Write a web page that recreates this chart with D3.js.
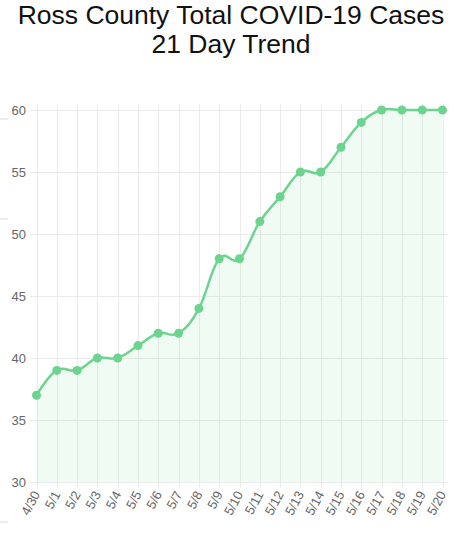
<!DOCTYPE html>
<html>
<head>
<meta charset="utf-8">
<script src="https://cdn.jsdelivr.net/npm/d3@7"></script>
<style>
  body { margin: 0; background: #fff; }
  svg { display: block; }
</style>
</head>
<body>
<svg id="chart" width="462" height="543"></svg>
<script>
// data
const dates = ["4/30","5/1","5/2","5/3","5/4","5/5","5/6","5/7","5/8","5/9","5/10",
               "5/11","5/12","5/13","5/14","5/15","5/16","5/17","5/18","5/19","5/20"]
const cases = [37,39,39,40,40,41,42,42,44,48,48,51,53,55,55,57,59,60,60,60,60]
const yTicks = [30,35,40,45,50,55,60]
const titleLines = ["Ross County Total COVID-19 Cases", "21 Day Trend"]

const green = "#6dd48f"
const gridColor = "#ebebeb"
const textColor = "#666"
const font = "'Liberation Sans', Arial, sans-serif"

let svg = d3.select("#chart")

// Title
svg.append("g")
    .selectAll("text")
    .data(titleLines)
    .join("text")
    .attr("x", 231)
    .attr("y", (d, i) => 24 + i * 29)
    .attr("text-anchor", "middle")
    .style("font-family", font)
    .style("font-size", "26.5px")
    .attr("fill", "#111")
    .text(d => d)

// small grey marks at the left border
svg.append("g")
    .selectAll("line")
    .data([119, 219, 522])
    .join("line")
    .attr("x1", 0).attr("x2", 8)
    .attr("y1", d => d).attr("y2", d => d)
    .attr("stroke", "#ddd")

let xScale = d3.scalePoint()
    .domain(dates)
    .range([36.5, 442.5])

let yScale = d3.scaleLinear()
    .domain([30, 60])
    .range([482, 110])

let plot = svg.append("g")

// horizontal grid + ticks
plot.append("g")
    .selectAll("line")
    .data(yTicks)
    .join("line")
    .attr("x1", 30)
    .attr("x2", 448)
    .attr("y1", d => Math.round(yScale(d)) + 0.5)
    .attr("y2", d => Math.round(yScale(d)) + 0.5)
    .attr("stroke", gridColor)

// vertical grid + ticks
plot.append("g")
    .selectAll("line")
    .data(dates)
    .join("line")
    .attr("x1", d => Math.round(xScale(d)) + 0.5)
    .attr("x2", d => Math.round(xScale(d)) + 0.5)
    .attr("y1", 104)
    .attr("y2", 488)
    .attr("stroke", gridColor)

// y labels
plot.append("g")
    .selectAll("text")
    .data(yTicks)
    .join("text")
    .attr("x", 26)
    .attr("y", d => yScale(d) + 4.5)
    .attr("text-anchor", "end")
    .style("font-family", font)
    .style("font-size", "13px")
    .attr("fill", textColor)
    .text(d => d)

// x labels, rotated
plot.append("g")
    .selectAll("text")
    .data(dates)
    .join("text")
    .attr("transform", d => `translate(${xScale(d) + 4}, ${494}) rotate(-62)`)
    .attr("text-anchor", "end")
    .style("font-family", font)
    .style("font-size", "13px")
    .attr("fill", textColor)
    .text(d => d)

// Chart.js style spline (tension 0.4) ~ cardinal with tension -0.2
let curve = d3.curveCardinal.tension(-0.2)

let area = d3.area()
    .x((d, i) => xScale(dates[i]))
    .y0(yScale(30))
    .y1(d => yScale(d))
    .curve(curve)

let line = d3.line()
    .x((d, i) => xScale(dates[i]))
    .y(d => yScale(d))
    .curve(curve)

plot.append("path")
    .datum(cases)
    .attr("d", area)
    .attr("fill", green)
    .attr("fill-opacity", 0.1)

plot.append("path")
    .datum(cases)
    .attr("d", line)
    .attr("fill", "none")
    .attr("stroke", green)
    .attr("stroke-width", 2.5)

plot.append("g")
    .selectAll("circle")
    .data(cases)
    .join("circle")
    .attr("cx", (d, i) => xScale(dates[i]))
    .attr("cy", d => yScale(d))
    .attr("r", 4.5)
    .attr("fill", green)
</script>
</body>
</html>
